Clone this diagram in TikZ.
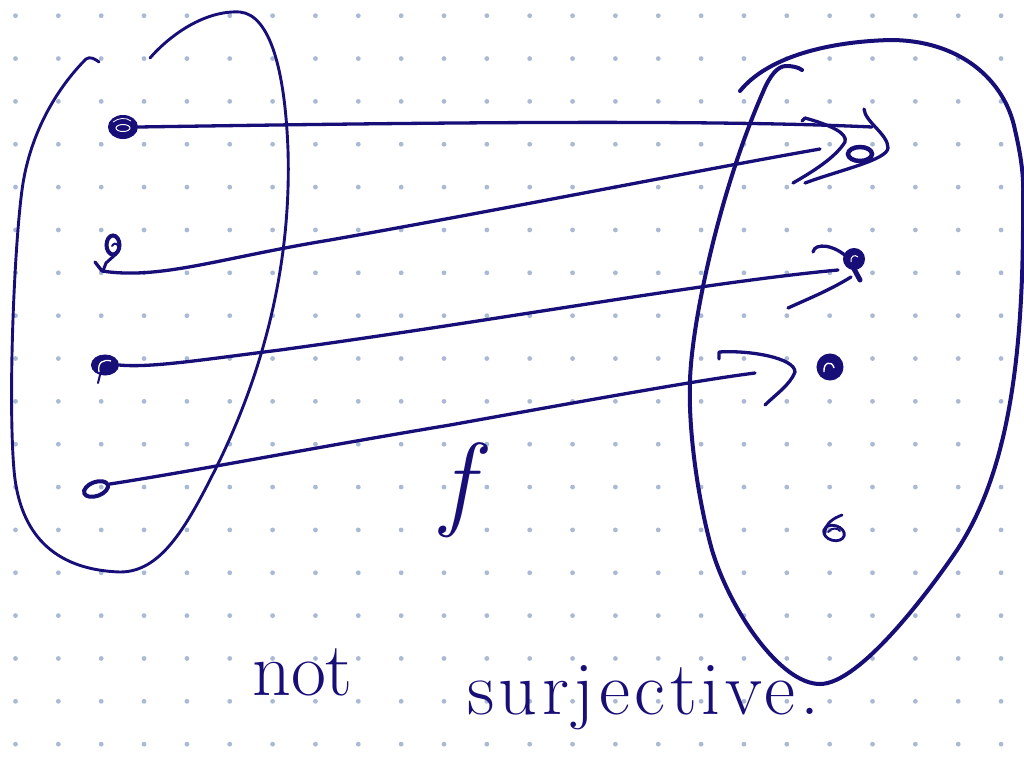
\documentclass[tikz,border=0pt]{standalone}
\usepackage{fontspec}
\newfontfamily\handfont{Latin Modern Roman}[LetterSpace=6.0]
\usetikzlibrary{shapes.geometric}
\definecolor{ink}{RGB}{24,14,120}
\definecolor{griddot}{RGB}{170,186,212}
\begin{document}
\begin{tikzpicture}[x=1pt,y=-1pt,
  pen/.style={draw=ink, line width=3.3pt, line cap=round, line join=round},
  thinpen/.style={draw=ink, line width=2.9pt, line cap=round, line join=round},
  thickpen/.style={draw=ink, line width=4pt, line cap=round, line join=round},
  blob/.style={ellipse, inner sep=0pt, draw=ink, line width=4pt},
  fblob/.style={ellipse, inner sep=0pt, draw=ink, fill=ink, line width=2pt},
  hand/.style={text=ink, inner sep=0pt, font=\fontsize{76}{76}\selectfont}]
\fill[white] (0,0) rectangle (1024,761);
\useasboundingbox (0,0) rectangle (1024,761);
% dot grid
\foreach \i in {0,...,23}
  \foreach \j in {0,...,17}
    \fill[griddot] ({15.5+42.85*\i},{15.7+42.85*\j}) circle (2.4pt);

% left set
\draw[thinpen] (150,58) .. controls (170,35) and (205,10) .. (240,12)
  .. controls (270,15) and (285,70) .. (288,150)
  .. controls (292,280) and (255,390) .. (215,470)
  .. controls (185,530) and (160,572) .. (120,572)
  .. controls (60,570) and (20,540) .. (14,470)
  .. controls (8,400) and (14,250) .. (22,190)
  .. controls (30,130) and (60,85) .. (86,59)
  .. controls (90,56) and (95,59) .. (99,62);

% right set
\draw[thickpen] (740,91) .. controls (765,60) and (820,42) .. (890,40)
  .. controls (960,40) and (1005,80) .. (1015,130)
  .. controls (1022,160) and (1024,180) .. (1023,200)
  .. controls (1024,350) and (1010,470) .. (957,550)
  .. controls (930,590) and (860,684) .. (820,684)
  .. controls (780,684) and (730,610) .. (712,550)
  .. controls (698,500) and (688,430) .. (690,380)
  .. controls (692,320) and (720,190) .. (763,92)
  .. controls (770,75) and (778,66) .. (786,66)
  .. controls (792,66) and (798,67) .. (802,70);

% domain points
\node[fblob, minimum width=28pt, minimum height=22pt] (a1) at (123,127) {};
\draw[white, line width=1pt] (123,128) ellipse (7pt and 3.5pt);
\draw[white, line width=0.8pt] (113,122) .. controls (118,118) and (126,117) .. (131,121);
\node[blob, minimum width=13pt, minimum height=19pt] (a2) at (113,245) {};
\draw[pen, line width=2pt] (112,246) .. controls (116,240) and (120,246) .. (118,252);
\draw[pen, line width=3pt] (116,254) -- (106,263) -- (103,271);
\node[fblob, minimum width=26pt, minimum height=19pt] (a3) at (105,365) {};
\draw[white, line width=1.3pt] (99,372) .. controls (97,362) and (104,359) .. (111,361);
\draw[pen, line width=2pt] (100,375) -- (98,383);
\node[blob, minimum width=25pt, minimum height=14pt, rotate=20] (a4) at (96,489) {};

% codomain points
\node[blob, minimum width=24pt, minimum height=14pt, line width=4.5pt] (b1) at (860,154) {};
\node[fblob, minimum width=20pt, minimum height=20pt] (b2) at (854,259) {};
\draw[white, line width=1pt] (851,262) .. controls (850,256) and (855,254) .. (858,257);
\draw[pen, line width=5pt] (853,267) -- (860,280);
\node[fblob, minimum width=25pt, minimum height=25pt] (b3) at (830,367) {};
\draw[white, line width=1.4pt] (824,372) .. controls (823,362) and (832,360) .. (834,368);
\node[blob, minimum width=21pt, minimum height=15pt, line width=2.8pt, rotate=-15] (b4) at (834,533) {};
\draw[pen, line width=2.8pt] (825,533) .. controls (825,523) and (834,518) .. (842,515);
\draw[pen, line width=2pt] (828,532) .. controls (832,527) and (838,528) .. (840,531);

% arrow end points
\coordinate (e1) at (872,127);
\coordinate (e2) at (820,149);
\coordinate (e3) at (838,270);
\coordinate (e4) at (755,373);

% arrows
\draw[pen] (a1.east) .. controls (400,123) and (700,119) .. (e1);
\draw[pen] (864,109) .. controls (865,122) and (888,134) .. (888,148)
  .. controls (887,160) and (840,170) .. (805,183);

\draw[pen] (95,262) -- (102,271) .. controls (160,280) and (220,258) .. (330,240)
  .. controls (500,210) and (700,170) .. (e2);
\draw[pen] (802,121) -- (805,118) .. controls (830,125) and (848,133) .. (845,142)
  .. controls (835,158) and (812,172) .. (793,183);

\draw[pen] (a3.east) .. controls (150,368) and (200,360) .. (280,350)
  .. controls (500,320) and (700,283) .. (e3);
\draw[pen] (813,252) .. controls (815,242) and (835,245) .. (848,258);
\draw[pen] (851,277) .. controls (830,290) and (810,298) .. (788,308);

\draw[pen] (a4.east) .. controls (200,470) and (300,450) .. (450,425)
  .. controls (600,398) and (700,380) .. (e4);
\draw[pen] (719,359) -- (719,352) .. controls (750,350) and (795,358) .. (795,372)
  .. controls (790,385) and (775,395) .. (765,405);

% labels
\node[text=ink, inner sep=0pt, anchor=base, font=\fontsize{105}{105}\selectfont\itshape] (f) at (457,516) {f};
\node[hand, anchor=base west] (nt) at (252,695) {not};
\node[hand, anchor=base west, font=\handfont\fontsize{76}{76}\selectfont] (surj) at (467,714) {surjective.};
\end{tikzpicture}
\end{document}
